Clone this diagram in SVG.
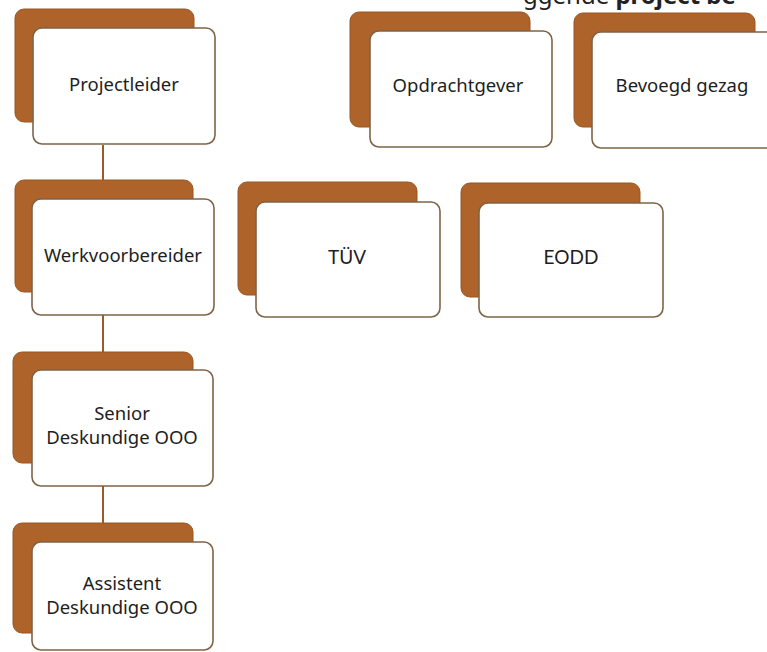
<svg xmlns="http://www.w3.org/2000/svg" width="767" height="652" viewBox="0 0 767 652">
<style>
.back{fill:#ad6329;stroke:#9a5622;stroke-width:1}
.front{fill:#ffffff;stroke:#7e6447;stroke-width:1.6}
.t{font-family:"Noto Sans","DejaVu Sans",sans-serif;font-size:18.5px;fill:#1e1e1e;text-anchor:middle}
.t2{font-family:Lato,"Open Sans",sans-serif;font-size:19px;fill:#1e1e1e;text-anchor:middle}
.conn{stroke:#9c5a25;stroke-width:2;fill:none}
.top{font-family:"Noto Sans","DejaVu Sans",sans-serif;font-size:24px;fill:#222}
</style>
<rect width="767" height="652" fill="#ffffff"/>
<text class="top" x="523" y="4">ggende <tspan font-weight="bold">project be</tspan></text>
<g id="connectors">
<line class="conn" x1="103" y1="145" x2="103" y2="199"/>
<line class="conn" x1="103" y1="315" x2="103" y2="370"/>
<line class="conn" x1="103" y1="486" x2="103" y2="542"/>
</g>
<g id="projectleider">
<rect class="back" x="15" y="9" width="179" height="113" rx="9"/>
<rect class="front" x="33" y="28" width="182" height="116" rx="9"/>
<text class="t" x="124" y="91">Projectleider</text>
</g>
<g id="werkvoorbereider">
<rect class="back" x="15" y="180" width="178" height="112" rx="9"/>
<rect class="front" x="32" y="199" width="182" height="116" rx="9"/>
<text class="t" x="123" y="262">Werkvoorbereider</text>
</g>
<g id="senior">
<rect class="back" x="13" y="352" width="180" height="111" rx="9"/>
<rect class="front" x="32" y="370" width="181" height="116" rx="9"/>
<text class="t" x="122" y="420">Senior</text>
<text class="t" x="122" y="444">Deskundige OOO</text>
</g>
<g id="assistent">
<rect class="back" x="13" y="523" width="180" height="110" rx="9"/>
<rect class="front" x="32" y="542" width="181" height="108" rx="9"/>
<text class="t" x="122" y="590">Assistent</text>
<text class="t" x="122" y="614">Deskundige OOO</text>
</g>
<g id="opdrachtgever">
<rect class="back" x="350" y="12" width="180" height="115" rx="9"/>
<rect class="front" x="370" y="31" width="182" height="116" rx="9"/>
<text class="t" x="458" y="92">Opdrachtgever</text>
</g>
<g id="bevoegd-gezag">
<rect class="back" x="574" y="13" width="181" height="114" rx="9"/>
<rect class="front" x="592" y="32" width="190" height="116" rx="9"/>
<text class="t" x="682" y="92">Bevoegd gezag</text>
</g>
<g id="tuv">
<rect class="back" x="238" y="182" width="179" height="113" rx="9"/>
<rect class="front" x="256" y="202" width="184" height="115" rx="9"/>
<text class="t2" x="347" y="264">TÜV</text>
</g>
<g id="eodd">
<rect class="back" x="461" y="183" width="179" height="114" rx="9"/>
<rect class="front" x="479" y="203" width="184" height="114" rx="9"/>
<text class="t2" x="571" y="264">EODD</text>
</g>
</svg>
